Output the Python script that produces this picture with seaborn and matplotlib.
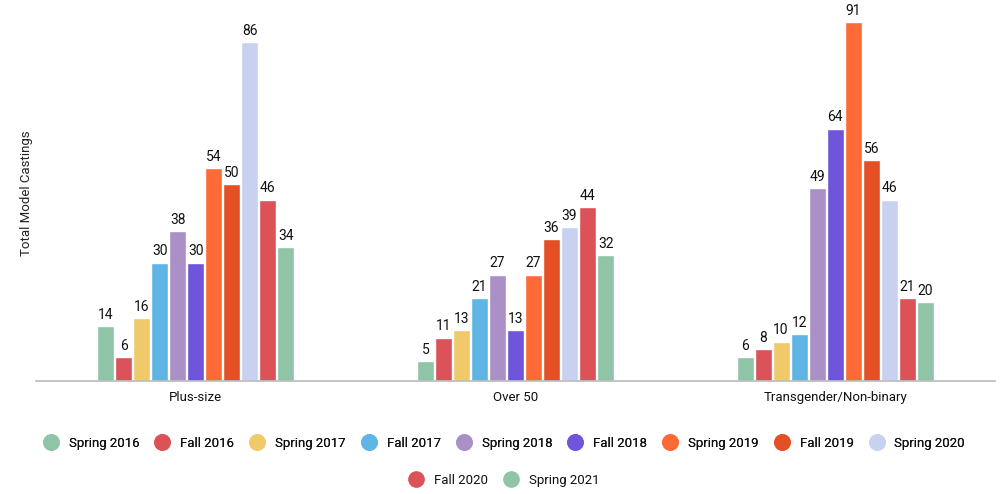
import matplotlib
matplotlib.use("Agg")
import matplotlib.pyplot as plt
import seaborn as sns
import pandas as pd
from matplotlib.lines import Line2D

categories = ["Plus-size", "Over 50", "Transgender/Non-binary"]
seasons = ["Spring 2016", "Fall 2016", "Spring 2017", "Fall 2017", "Spring 2018",
           "Fall 2018", "Spring 2019", "Fall 2019", "Spring 2020", "Fall 2020", "Spring 2021"]
plus_size = [14, 6, 16, 30, 38, 30, 54, 50, 86, 46, 34]
over_50 = [5, 11, 13, 21, 27, 13, 27, 36, 39, 44, 32]
trans_nb = [6, 8, 10, 12, 49, 64, 91, 56, 46, 21, 20]
colors = ["#8fc4a6", "#db5358", "#f0c96a", "#5fb6e5", "#aa90c6", "#6e55db",
          "#fd6a37", "#e44f26", "#c8d2f0", "#db5358", "#8fc4a6"]

rows = []
for cat, vals in zip(categories, [plus_size, over_50, trans_nb]):
    for s, v in zip(seasons, vals):
        rows.append({"category": cat, "season": s, "value": v})
df = pd.DataFrame(rows)

sns.set_theme(style="white")
plt.rcParams["font.family"] = ["Roboto", "DejaVu Sans"]

fig = plt.figure(figsize=(10, 4.94), dpi=100)
ax = fig.add_axes([0.036, 0.2287, 0.959, 0.7587])
palette = dict(zip(seasons, colors))
sns.barplot(data=df, x="category", y="value", hue="season", hue_order=seasons,
            order=categories, palette=palette, width=0.62, gap=0.06,
            saturation=1, legend=False, ax=ax, errorbar=None)

for cont in ax.containers:
    ax.bar_label(cont, fmt="%d", padding=3, fontsize=10, color="#111111")

ax.set_ylim(0, 95)
ax.set_xlim(-0.5, 2.5)
ax.set_yticks([])
ax.set_xlabel("")
ax.set_ylabel("Total Model Castings", fontsize=9.5, color="#222222", labelpad=2)
for sp in ["top", "right", "left"]:
    ax.spines[sp].set_visible(False)
ax.spines["bottom"].set_color("#bbbbbb")
ax.spines["bottom"].set_linewidth(1.2)
ax.tick_params(axis="x", length=0, labelsize=9.5, colors="#111111", pad=7)

def handles(names, cols):
    return [Line2D([0], [0], marker="o", linestyle="", markersize=11,
                   markerfacecolor=c, markeredgecolor=c, label=n) for n, c in zip(names, cols)]

leg_kw = dict(frameon=False, fontsize=9.5, handletextpad=0.75, columnspacing=1.15,
              handlelength=1.2, labelcolor="#111111")
leg1 = fig.legend(handles=handles(seasons[:9], colors[:9]), loc="center",
                  bbox_to_anchor=(0.504, 1 - 443 / 494), ncol=9, **leg_kw)
fig.add_artist(leg1)
fig.legend(handles=handles(seasons[9:], colors[9:]), loc="center",
           bbox_to_anchor=(0.504, 1 - 480 / 494), ncol=2, **leg_kw)

fig.savefig("out.png", dpi=100)
